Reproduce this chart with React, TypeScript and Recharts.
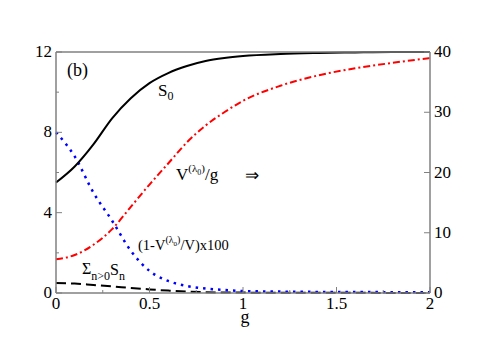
import React from "react";
import { LineChart, Line, XAxis, YAxis } from "recharts";

// plot box (px) in the 485x346 picture
const L = 56;
const R = 430;
const T = 52;
const B = 293;
const AXIS = "#808080";
const FONT = "Liberation Serif, Times New Roman, Times, serif";

// S0 (left axis)
const gS0 = [0, 0.1, 0.2, 0.3, 0.4, 0.5, 0.6, 0.7, 0.8, 0.9, 1.0, 1.2, 1.4, 1.6, 1.8, 2.0];
const s0 = [5.5, 6.3, 7.4, 8.7, 9.7, 10.45, 10.95, 11.3, 11.55, 11.7, 11.8, 11.9, 11.95, 11.98, 12, 12];

// V^(lambda0)/g (right axis)
const gV = [0, 0.1, 0.2, 0.3, 0.4, 0.5, 0.6, 0.7, 0.8, 0.9, 1.0, 1.2, 1.4, 1.6, 1.8, 2.0];
const vOverG = [5.6, 6.3, 8.0, 10.6, 14.3, 18.0, 21.5, 25.0, 27.8, 30.0, 31.9, 34.4, 36.1, 37.3, 38.2, 39.0];

// (1 - V^(lambda0)/V) x 100 (left axis)
const gDev = [0, 0.1, 0.2, 0.3, 0.4, 0.5, 0.6, 0.7, 0.8, 0.9, 1.0, 1.2, 1.5, 2.0];
const dev = [8.0, 6.8, 5.0, 3.6, 2.1, 1.1, 0.6, 0.35, 0.22, 0.15, 0.1, 0.07, 0.05, 0.04];

// sum_{n>0} S_n (left axis)
const gSum = [0, 0.1, 0.2, 0.3, 0.4, 0.5, 0.6, 0.7, 0.8, 1.0, 1.5, 2.0];
const sumSn = [0.5, 0.47, 0.4, 0.33, 0.25, 0.18, 0.12, 0.07, 0.04, 0.02, 0.01, 0.0];

const xTicks = [0, 0.25, 0.5, 0.75, 1, 1.25, 1.5, 1.75, 2];
const xLabels = [0, 0.5, 1, 1.5, 2];
const leftTicks = [0, 2, 4, 6, 8, 10, 12];
const leftLabels = [0, 4, 8, 12];
const rightTicks = [0, 10, 20, 30, 40];

const toRows = (xs: number[], ys: number[]) => xs.map((g, i) => ({ g, v: ys[i] }));

const labelStyle = { fontFamily: FONT };

const BottomTick = (props: any) => {
  const { payload } = props;
  const c = payload.coordinate;
  const major = xLabels.includes(payload.value);
  return (
    <g>
      <line x1={c} x2={c} y1={B} y2={B - (major ? 6 : 3)} stroke={AXIS} strokeWidth={1} />
      {major && (
        <text x={c} y={B + 16} textAnchor="middle" fontSize={17} fontFamily={FONT} style={labelStyle} fill="#000">
          {payload.value}
        </text>
      )}
    </g>
  );
};

const TopTick = (props: any) => {
  const { payload } = props;
  const c = payload.coordinate;
  const major = xLabels.includes(payload.value);
  return <line x1={c} x2={c} y1={T} y2={T + (major ? 6 : 3)} stroke={AXIS} strokeWidth={1} />;
};

const LeftTick = (props: any) => {
  const { payload } = props;
  const c = payload.coordinate;
  const major = leftLabels.includes(payload.value);
  return (
    <g>
      <line x1={L} x2={L + (major ? 6 : 3)} y1={c} y2={c} stroke={AXIS} strokeWidth={1} />
      {major && (
        <text x={L - 4} y={c + 5} textAnchor="end" fontSize={17} fontFamily={FONT} style={labelStyle} fill="#000">
          {payload.value}
        </text>
      )}
    </g>
  );
};

const RightTick = (props: any) => {
  const { payload } = props;
  const c = payload.coordinate;
  return (
    <g>
      <line x1={R} x2={R - 6} y1={c} y2={c} stroke={AXIS} strokeWidth={1} />
      <text x={R + 4} y={c + 5} textAnchor="start" fontSize={17} fontFamily={FONT} style={labelStyle} fill="#000">
        {payload.value}
      </text>
    </g>
  );
};

export default function App() {
  return (
    <div style={{ position: "absolute", left: 0, top: 0, width: 485, height: 346, background: "#fff", fontFamily: FONT }}>
      <LineChart width={485} height={346} margin={{ top: 22, right: 25, bottom: 23, left: 26 }}>
        <XAxis
          xAxisId="b"
          type="number"
          dataKey="g"
          domain={[0, 2]}
          ticks={xTicks}
          height={30}
          axisLine={{ stroke: AXIS, strokeWidth: 1.5 }}
          tickLine={false}
          tick={<BottomTick />}
          interval={0}
        />
        <XAxis
          xAxisId="t"
          orientation="top"
          type="number"
          dataKey="g"
          domain={[0, 2]}
          ticks={xTicks}
          height={30}
          axisLine={{ stroke: AXIS, strokeWidth: 1.5 }}
          tickLine={false}
          tick={<TopTick />}
          interval={0}
        />
        <YAxis
          yAxisId="l"
          type="number"
          domain={[0, 12]}
          ticks={leftTicks}
          width={30}
          axisLine={{ stroke: AXIS, strokeWidth: 1.5 }}
          tickLine={false}
          tick={<LeftTick />}
          interval={0}
        />
        <YAxis
          yAxisId="r"
          orientation="right"
          type="number"
          domain={[0, 40]}
          ticks={rightTicks}
          width={30}
          axisLine={{ stroke: AXIS, strokeWidth: 1.5 }}
          tickLine={false}
          tick={<RightTick />}
          interval={0}
        />
        <Line
          xAxisId="b"
          yAxisId="l"
          data={toRows(gSum, sumSn)}
          dataKey="v"
          type="monotone"
          stroke="#000"
          strokeWidth={2}
          strokeDasharray="10 5"
          dot={false}
          isAnimationActive={false}
        />
        <Line
          xAxisId="b"
          yAxisId="l"
          data={toRows(gDev, dev)}
          dataKey="v"
          type="monotone"
          stroke="#0000ff"
          strokeWidth={2.5}
          strokeDasharray="2.5 5"
          dot={false}
          isAnimationActive={false}
        />
        <Line
          xAxisId="b"
          yAxisId="r"
          data={toRows(gV, vOverG)}
          dataKey="v"
          type="monotone"
          stroke="#ff0000"
          strokeWidth={2}
          strokeDasharray="7 3 2 3"
          dot={false}
          isAnimationActive={false}
        />
        <Line
          xAxisId="b"
          yAxisId="l"
          data={toRows(gS0, s0)}
          dataKey="v"
          type="monotone"
          stroke="#000"
          strokeWidth={2}
          dot={false}
          isAnimationActive={false}
        />
      </LineChart>
      <svg
        width={485}
        height={346}
        style={{ position: "absolute", left: 0, top: 0, pointerEvents: "none", fontFamily: FONT }}
        fill="#000"
      >
        <text x={67} y={76} fontSize={18}>(b)</text>
        <text x={158} y={96} fontSize={17}>
          S<tspan fontSize={12} dy={4}>0</tspan>
        </text>
        <text x={176} y={180} fontSize={17}>
          V<tspan fontSize={11} dy={-8}>(λ</tspan>
          <tspan fontSize={8} dy={3}>0</tspan>
          <tspan fontSize={11} dy={-3}>)</tspan>
          <tspan fontSize={17} dy={8}>/g</tspan>
        </text>
        <text x={245} y={181} fontSize={17}>⇒</text>
        <text x={138} y={250} fontSize={14.5}>
          (1-V<tspan fontSize={10} dy={-7}>(λ</tspan>
          <tspan fontSize={7} dy={3}>0</tspan>
          <tspan fontSize={10} dy={-3}>)</tspan>
          <tspan fontSize={14.5} dy={7}>/V)x100</tspan>
        </text>
        <text x={82} y={274} fontSize={16}>
          Σ<tspan fontSize={12} dy={6}>n&gt;0</tspan>
          <tspan fontSize={16} dy={-5}>S</tspan>
          <tspan fontSize={12} dy={5}>n</tspan>
        </text>
        <text x={245} y={323} fontSize={18} textAnchor="middle">g</text>
      </svg>
    </div>
  );
}
